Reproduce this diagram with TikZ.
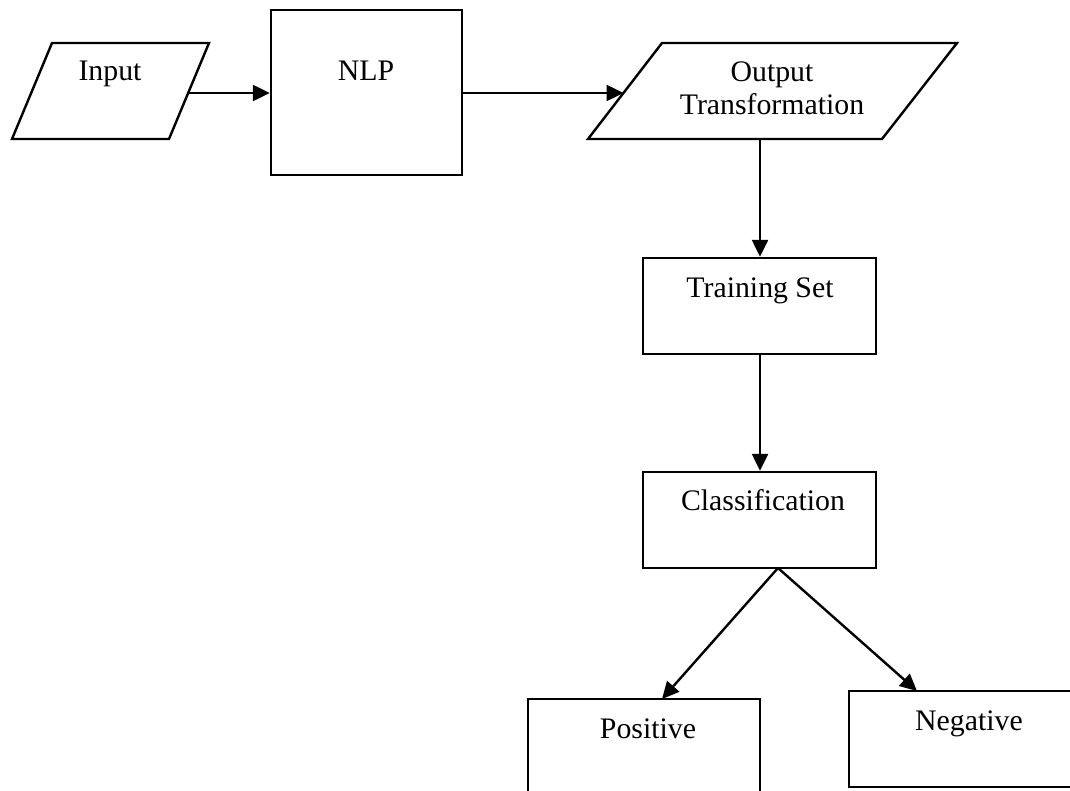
\documentclass[tikz,border=0pt]{standalone}
\usepackage{fontspec}
\setmainfont{Liberation Serif}
\usetikzlibrary{arrows.meta}
\tikzset{
  box/.style={draw, line width=1.2pt, rectangle, inner sep=0pt},
  para/.style={draw, line width=1.2pt, line join=miter},
  lbl/.style={anchor=base, inner sep=0pt, font=\fontsize{14.9}{16.5}\selectfont},
  arr/.style={line width=1.2pt, -{Triangle[length=8.5pt,width=8pt]}}
}
\begin{document}
\begin{tikzpicture}[x=0.5pt,y=-0.5pt]
\useasboundingbox (0,0) rectangle (1070,791);
\clip (0,0) rectangle (1070,791);
% Input parallelogram
\coordinate (in1) at (52,43);
\coordinate (in2) at (209,43);
\coordinate (in3) at (169,139);
\coordinate (in4) at (12,139);
\draw[para] (in1) -- (in2) -- (in3) -- (in4) -- cycle;
\node[lbl] (tin) at (110,81) {Input};
\coordinate (inR) at (188,93);
% NLP
\node[box, minimum width=95.5pt, minimum height=82.5pt] (nlp) at (366.5,92.5) {};
\node[lbl] (tnlp) at (366,81) {NLP};
% Output parallelogram
\coordinate (o1) at (662,43);
\coordinate (o2) at (957,43);
\coordinate (o3) at (882,139);
\coordinate (o4) at (588,139);
\draw[para] (o1) -- (o2) -- (o3) -- (o4) -- cycle;
\node[lbl] (tout1) at (772,82) {Output};
\node[lbl] (tout2) at (772,115) {Transformation};
\coordinate (oL) at (623.5,93);
\coordinate (oB) at (760,139);
% Training set
\node[box, minimum width=116.5pt, minimum height=48pt] (train) at (759.5,306) {};
\node[lbl] (ttrain) at (760,297) {Training Set};
% Classification
\node[box, minimum width=116.5pt, minimum height=48pt] (cls) at (759.5,520) {};
\node[lbl] (tcls) at (763,510) {Classification};
\coordinate (cB) at (778,568);
% Positive
\node[box, minimum width=116pt, minimum height=65.5pt] (pos) at (644,764.5) {};
\node[lbl] (tpos) at (648,738) {Positive};
\coordinate (pT) at (662,699);
% Negative
\node[box, minimum width=120.5pt, minimum height=48pt] (neg) at (969.5,739) {};
\node[lbl] (tneg) at (969,730) {Negative};
\coordinate (nT) at (917,691);
% Connectors
\draw[arr] (inR) -- (nlp.west |- inR);
\draw[arr] (nlp.east |- inR) -- (oL);
\draw[arr] (oB) -- (train.north -| oB);
\draw[arr] (train.south -| oB) -- (cls.north -| oB);
\draw[arr] (cB) -- (pT);
\draw[arr] (cB) -- (nT);
\end{tikzpicture}
\end{document}
